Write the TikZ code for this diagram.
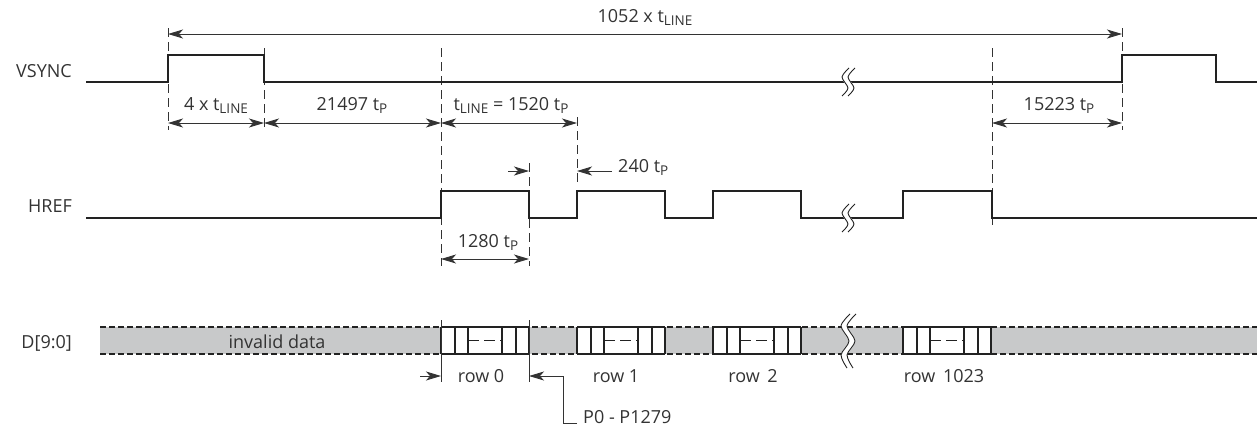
\documentclass[tikz,border=0pt]{standalone}
\usepackage{fontspec}
\setmainfont{Open Sans}
\usetikzlibrary{arrows.meta}
\definecolor{sigc}{HTML}{222222}
\definecolor{dimc}{HTML}{333333}
\definecolor{txtc}{HTML}{333333}
\definecolor{bandc}{HTML}{C8C9CA}
\newcommand{\sbs}[1]{\raisebox{-0.35ex}{\fontsize{13.5}{14}\selectfont #1}}
\tikzset{
  sig/.style={draw=sigc, line width=2pt},
  thinsig/.style={draw=sigc, line width=1.7pt},
  guide/.style={draw=dimc, line width=0.9pt, dash pattern=on 9pt off 5pt},
  tip/.tip={Stealth[length=15pt,width=9pt,inset=4pt]},
  dimar/.style={draw=dimc, line width=0.9pt, tip-tip},
  onear/.style={draw=dimc, line width=0.9pt, -tip},
  lbl/.style={font=\fontsize{18}{20}\selectfont, text=txtc, inner sep=0pt},
  banddash/.style={draw=sigc, line width=2pt, dash pattern=on 6pt off 3pt},
  brks/.pic={
    \draw[white, line width=6pt] plot[smooth] coordinates {(7,-14) (0,-5) (6,6) (0,14)};
    \draw[sigc, line width=0.9pt] plot[smooth] coordinates {(4,-14) (-3,-5) (3,6) (-3,14)};
    \draw[sigc, line width=0.9pt] plot[smooth] coordinates {(10,-14) (3,-5) (9,6) (3,14)};
  },
  brkl/.pic={
    \draw[white, line width=6pt] plot[smooth] coordinates {(8,-27) (-1,-15) (7,0) (-1,14) (5,27)};
    \draw[sigc, line width=0.9pt] plot[smooth] coordinates {(5,-27) (-4,-15) (4,0) (-4,14) (2,27)};
    \draw[sigc, line width=0.9pt] plot[smooth] coordinates {(11,-27) (2,-15) (10,0) (2,14) (8,27)};
  }
}
\begin{document}
\begin{tikzpicture}[x=1pt,y=-1pt]
\useasboundingbox (0,0) rectangle (1257,429);

% ---------- signal labels
\node[lbl, anchor=base east] (lv) at (72,77) {VSYNC};
\node[lbl, anchor=base east] (lh) at (72,212) {HREF};
\node[lbl, anchor=base east] (ld) at (72,348) {D[9:0]};

% ---------- guide lines
\draw[guide] (168,28) -- (168,130);
\draw[guide] (264,48) -- (264,130);
\draw[guide] (441,48) -- (441,266);
\draw[guide] (577,117) -- (577,184);
\draw[guide] (529,163) -- (529,266);
\draw[guide] (992,48) -- (992,226);
\draw[guide] (1122,28) -- (1122,130);

% ---------- VSYNC
\draw[sig] (86,82) -- (168,82) -- (168,55) -- (264,55) -- (264,82) -- (1122,82)
  -- (1122,55) -- (1216,55) -- (1216,82) -- (1260,82);
\pic at (845,82) {brks};

% ---------- HREF
\draw[sig] (86,218) -- (441,218) -- (441,191) -- (529,191) -- (529,218) -- (577,218)
  -- (577,191) -- (665,191) -- (665,218) -- (713,218) -- (713,191) -- (801,191)
  -- (801,218) -- (903,218) -- (903,191) -- (992,191) -- (992,218) -- (1260,218);
\pic at (845,218) {brks};

% ---------- data band
\fill[bandc] (100,327) rectangle (1260,354);
\draw[banddash] (100,327) -- (1260,327);
\draw[banddash] (100,354) -- (1260,354);
\foreach \x in {441,577,713,903} {
  \fill[white] (\x,327) rectangle (\x+88,354);
  \draw[sig] (\x,327) -- (\x+88,327);
  \draw[sig] (\x,354) -- (\x+88,354);
  \foreach \d in {0,13.7,27.3,60.7,74.7,88}
    \draw[thinsig] (\x+\d,327) -- (\x+\d,354);
  \draw[draw=sigc, line width=1.3pt, dash pattern=on 11pt off 5pt] (\x+27.3,340.5) -- (\x+60.7,340.5);
}
\pic at (845,341) {brkl};
\node[lbl, anchor=base] (inv) at (277,348) {invalid data};

% ---------- dimension coordinates
\coordinate (t1a) at (168,34);  \coordinate (t1b) at (1122,34);
\coordinate (d1) at (168,123);  \coordinate (d2) at (264,123);
\coordinate (d3) at (441,123);  \coordinate (d4) at (577,123);
\coordinate (d5) at (992,123);  \coordinate (d6) at (1122,123);
\coordinate (h1) at (441,259);  \coordinate (h2) at (529,259);
\coordinate (q1) at (508,171);  \coordinate (q2) at (529,171);
\coordinate (q3) at (612,171);  \coordinate (q4) at (577,171);
\coordinate (r1) at (420,376);  \coordinate (r2) at (441,376);
\coordinate (r3) at (529,376);  \coordinate (rc) at (563,376);

\draw[dimar] (t1a) -- (t1b);
\draw[dimar] (d1) -- (d2);
\draw[dimar] (d2) -- (d3);
\draw[dimar] (d3) -- (d4);
\draw[dimar] (d5) -- (d6);
\draw[dimar] (h1) -- (h2);
\draw[onear] (q1) -- (q2);
\draw[onear] (q3) -- (q4);

% ---------- dimension labels
\node[lbl, anchor=base] (l1052) at (645,22) {1052 x t\sbs{LINE}};
\node[lbl, anchor=base] (l4) at (216,110) {4 x t\sbs{LINE}};
\node[lbl, anchor=base] (l21497) at (352,110) {21497 t\sbs{P}};
\node[lbl, anchor=base] (l1520) at (511,110) {t\sbs{LINE} = 1520 t\sbs{P}};
\node[lbl, anchor=base] (l15223) at (1059,110) {15223 t\sbs{P}};
\node[lbl, anchor=base] (l1280) at (488,247) {1280 t\sbs{P}};
\node[lbl, anchor=base west] (l240) at (618,172) {240 t\sbs{P}};

% ---------- row markers
\draw[draw=dimc, line width=0.9pt] (441,320) -- (441,382);
\draw[draw=dimc, line width=0.9pt] (529,320) -- (529,382);
\draw[onear] (r1) -- (r2);
\node[lbl, anchor=base] (row0) at (481,382) {row 0};
\node[lbl, anchor=base] (row1) at (616,382) {row 1};
\node[lbl, anchor=base] (row2) at (753,382) {row\, 2};
\node[lbl, anchor=base] (row1023) at (944,382) {row\, 1023};
\node[lbl, anchor=base west] (plab) at (583,423) {P0 - P1279};
\draw[onear] ([xshift=-6pt]plab.base west) -| (rc) -- (r3);
\end{tikzpicture}
\end{document}
